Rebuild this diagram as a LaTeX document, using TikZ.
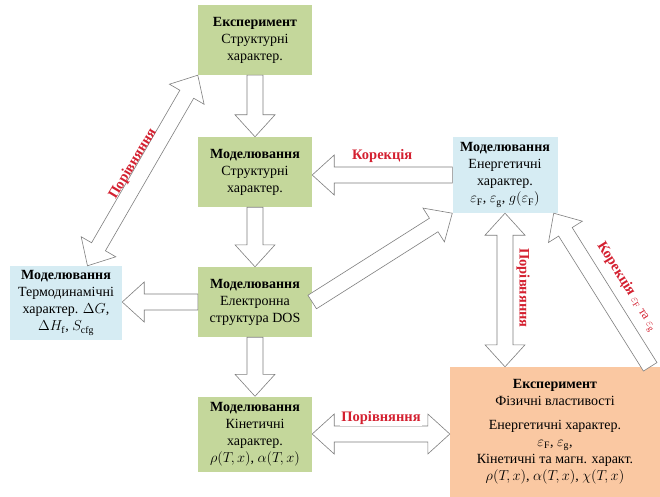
\documentclass[tikz,border=0pt]{standalone}
\usepackage{fontspec}
\IfFontExistsTF{LiberationSerif-Regular.ttf}
  {\setmainfont{LiberationSerif}[Extension=.ttf,UprightFont=*-Regular,BoldFont=*-Bold,
    ItalicFont=*-Italic,BoldItalicFont=*-BoldItalic]}
  {\setmainfont{Liberation Serif}}
\usetikzlibrary{calc}
\definecolor{fizGreen}{HTML}{C4D79B}
\definecolor{fizBlue}{HTML}{D6ECF3}
\definecolor{fizOrange}{HTML}{FAC8A2}
\definecolor{fizRed}{HTML}{D42030}
\definecolor{fizLine}{HTML}{7F7F7F}
\def\fashaft{8pt}\def\fahalf{20pt}\def\fahead{22pt}
\newcommand{\fizprep}[2]{%
  \path #1 coordinate (fa-s) #2 coordinate (fa-e);
  \pgfpointdiff{\pgfpointanchor{fa-s}{center}}{\pgfpointanchor{fa-e}{center}}%
  \pgfgetlastxy{\fadx}{\fady}%
  \pgfmathsetmacro{\faang}{atan2(\fady,\fadx)}%
  \pgfmathsetlengthmacro{\falen}{veclen(\fadx,\fady)}%
  \pgfmathsetlengthmacro{\faneck}{\falen-\fahead}}
% block arrow, one head
\newcommand{\fizarrow}[2]{%
  \fizprep{#1}{#2}%
  \begin{scope}[shift={(fa-s)},rotate=\faang]
    \path[fizshape] (0pt,-\fashaft) -- (\faneck,-\fashaft) -- (\faneck,-\fahalf) -- (\falen,0pt)
      -- (\faneck,\fahalf) -- (\faneck,\fashaft) -- (0pt,\fashaft) -- cycle;
  \end{scope}}
% block arrow, two heads
\newcommand{\fizdarrow}[2]{%
  \fizprep{#1}{#2}%
  \begin{scope}[shift={(fa-s)},rotate=\faang]
    \path[fizshape] (\fahead,-\fashaft) -- (\faneck,-\fashaft) -- (\faneck,-\fahalf) -- (\falen,0pt)
      -- (\faneck,\fahalf) -- (\faneck,\fashaft) -- (\fahead,\fashaft) -- (\fahead,\fahalf)
      -- (0pt,0pt) -- (\fahead,-\fahalf) -- cycle;
  \end{scope}}

\begin{document}
\begin{tikzpicture}[x=1pt,y=-1pt,line join=miter]
\path[fill=white] (0,0) rectangle (660,497);
\useasboundingbox (0,0) rectangle (660,497);
\tikzset{box/.style={inner sep=0pt,align=center,font=\rmfamily\fontsize{14}{17}\selectfont},
  green/.style={box,fill=fizGreen,minimum width=114pt,minimum height=70pt},
  blue/.style={box,fill=fizBlue},
  fizshape/.style={draw=fizLine,fill=white,line width=0.6pt},
  lbl/.style={text=fizRed,font=\rmfamily\bfseries\fontsize{14.5}{16}\selectfont,inner sep=1pt}}
% left column
\node[green] (expstr) at (255,40) {\textbf{Експеримент}\\Структурні\\характер.};
\node[green] (modstr) at (255,172) {\textbf{Моделювання}\\Структурні\\характер.};
\node[green] (moddos) at (255,302) {\textbf{Моделювання}\\Електронна\\структура DOS};
\node[green,minimum height=75pt] (modkin) at (255,434) {\textbf{Моделювання}\\Кінетичні\\характер.\\$\rho(T\!,x)$, $\alpha(T\!,x)$};
\node[blue,minimum width=112pt,minimum height=74pt] (modterm) at (66,303) {\textbf{Моделювання}\\Термодинамічні\\характер. $\Delta G$,\\$\Delta H_\mathrm{f}$, $S_\mathrm{cfg}$};
\node[blue,minimum width=105pt,minimum height=76pt] (modener) at (505,175) {\textbf{Моделювання}\\Енергетичні\\характер.\\$\varepsilon_\mathrm{F}$, $\varepsilon_\mathrm{g}$, $g(\varepsilon_\mathrm{F})$};
\node[box,fill=fizOrange,minimum width=210pt,minimum height=130pt] (expfiz) at (555,432) {\textbf{Експеримент}\\Фізичні властивості\\[7pt]Енергетичні характер.\\$\varepsilon_\mathrm{F}$, $\varepsilon_\mathrm{g}$,\\Кінетичні та магн. характ.\\$\rho(T\!,x)$, $\alpha(T\!,x)$, $\chi(T\!,x)$};
% arrows
\fizarrow{(expstr.south)}{(modstr.north)}
\fizarrow{(modstr.south)}{(moddos.north)}
\fizarrow{(moddos.south)}{(modkin.north)}
\fizarrow{(moddos.west)}{(modterm.east|-moddos.west)}
\fizdarrow{(modterm.60)}{(expstr.south west)}
\fizarrow{(modener.west)}{(modstr.east|-modener.west)}
\fizarrow{(moddos.east)}{(modener.south west)}
\fizdarrow{(modener.south)}{(modener.south|-expfiz.north)}
\fizarrow{([xshift=-10pt]expfiz.north east)}{([xshift=-4pt]modener.south east)}
\fizdarrow{(modkin.east)}{(expfiz.west|-modkin.east)}
% labels
\node[lbl] (korstr) at ($(modstr.east)!0.5!(modener.west)+(0,-17)$) {Корекція};
\node[lbl,rotate=59] (porterm) at (133,164) {Порівняння};
\node[lbl,rotate=-90] (porener) at (523,288) {Порівняння};
\node[lbl,rotate=-58] (korener) at (627,287) {Корекція {\mdseries\fontsize{12.5}{14}\selectfont$\varepsilon_\mathrm{F}$ та $\varepsilon_\mathrm{g}$}};
\node[lbl,fill=white] (porkin) at ($(modkin.east)!0.5!(expfiz.west)+(0,-15)$) {Порівняння};
\end{tikzpicture}
\end{document}
